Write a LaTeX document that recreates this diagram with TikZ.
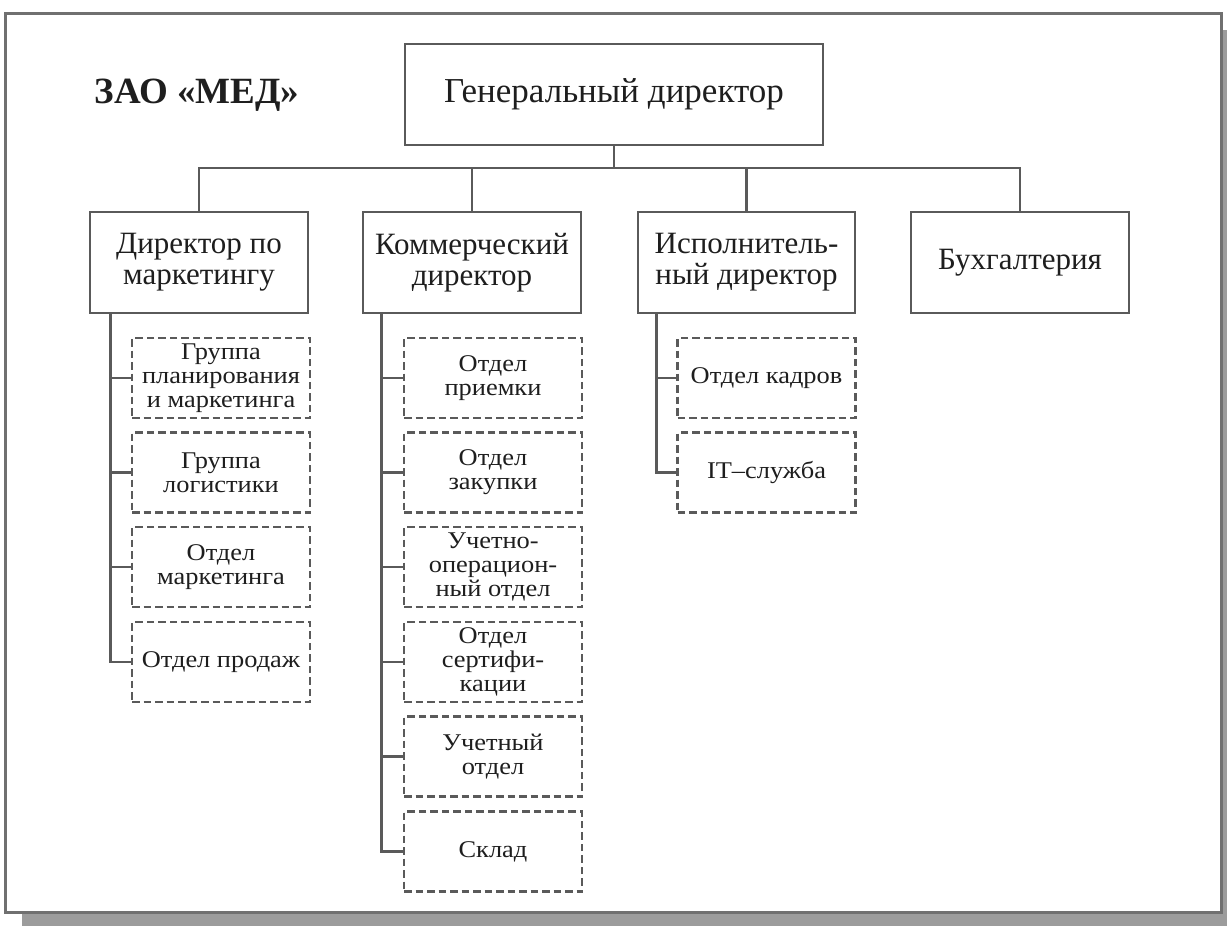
\documentclass[tikz,border=0pt]{standalone}
\usepackage{fontspec}
\setmainfont{Liberation Serif}
\newfontfamily\subfont[FakeStretch=1.1]{Liberation Serif}
\usetikzlibrary{calc}
\definecolor{linec}{HTML}{5A5A5A}
\definecolor{framec}{HTML}{707070}
\definecolor{shadowc}{HTML}{9C9C9C}
\definecolor{textc}{HTML}{1E1E1E}
\tikzset{
  mainbox/.style={draw=linec, line width=2.6pt, minimum width=218pt, minimum height=101pt,
    inner sep=2pt, align=center, text=textc, font=\fontsize{31}{31}\selectfont},
  subbox/.style={draw=linec, line width=2.4pt, dash pattern=on 7.5pt off 4pt,
    minimum width=178pt, minimum height=80pt, inner sep=1pt, align=center, text=textc,
    font=\subfont\fontsize{24}{24.2}\selectfont},
  link/.style={draw=linec, line width=2.6pt},
}
\begin{document}
\begin{tikzpicture}[x=1pt,y=-1pt]
\useasboundingbox (0,0) rectangle (1227,926);
% frame with shadow
\fill[shadowc] (22,30) rectangle (1227,926);
\draw[framec, line width=3pt, fill=white] (5,13) rectangle (1221,912);

\node[anchor=base, text=textc, font=\fontsize{37}{37}\selectfont\bfseries] (title) at (197,103) {ЗАО «МЕД»};

\node[mainbox, minimum width=418pt, font=\fontsize{35}{35}\selectfont] (gd) at (614,94.5) {Генеральный директор};

\node[mainbox] (m) at (199,262.5) {Директор по\\маркетингу};
\node[mainbox] (k) at (472,262.5) {Коммерческий\\директор};
\node[mainbox, minimum width=217pt] (i) at (746.5,262.5) {Исполнитель-\\ный директор};
\node[mainbox] (b) at (1020,262.5) {Бухгалтерия};

% bus
\coordinate (bus) at (0,168);
\draw[link] (gd.south) -- (gd.south |- bus);
\draw[link] (m.north) -- (m.north |- bus) -- (b.north |- bus) -- (b.north);
\draw[link] (k.north) -- (k.north |- bus);
\draw[link] (i.north) -- (i.north |- bus);

% marketing column
\node[subbox] (m1) at (221,378) {Группа\\планирования\\и маркетинга};
\node[subbox] (m2) at (221,472.5) {Группа\\логистики};
\node[subbox] (m3) at (221,567) {Отдел\\маркетинга};
\node[subbox] (m4) at (221,662) {Отдел продаж};
\coordinate (vm) at ($(m.south west)+(22,0)$);
\draw[link] (vm) |- (m4.west);
\foreach \n in {m1,m2,m3} \draw[link] (vm |- \n.west) -- (\n.west);

% commercial column
\node[subbox] (k1) at (493,378) {Отдел\\приемки};
\node[subbox] (k2) at (493,472.5) {Отдел\\закупки};
\node[subbox] (k3) at (493,567) {Учетно-\\операцион-\\ный отдел};
\node[subbox] (k4) at (493,662) {Отдел\\сертифи-\\кации};
\node[subbox] (k5) at (493,756.5) {Учетный\\отдел};
\node[subbox] (k6) at (493,851.5) {Склад};
\coordinate (vk) at ($(k.south west)+(20,0)$);
\draw[link] (vk) |- (k6.west);
\foreach \n in {k1,k2,k3,k4,k5} \draw[link] (vk |- \n.west) -- (\n.west);

% executive column
\node[subbox] (i1) at (766.5,378) {Отдел кадров};
\node[subbox] (i2) at (766.5,472.5) {IT–служба};
\coordinate (vi) at ($(i.south west)+(19.5,0)$);
\draw[link] (vi) |- (i2.west);
\draw[link] (vi |- i1.west) -- (i1.west);
\end{tikzpicture}
\end{document}
